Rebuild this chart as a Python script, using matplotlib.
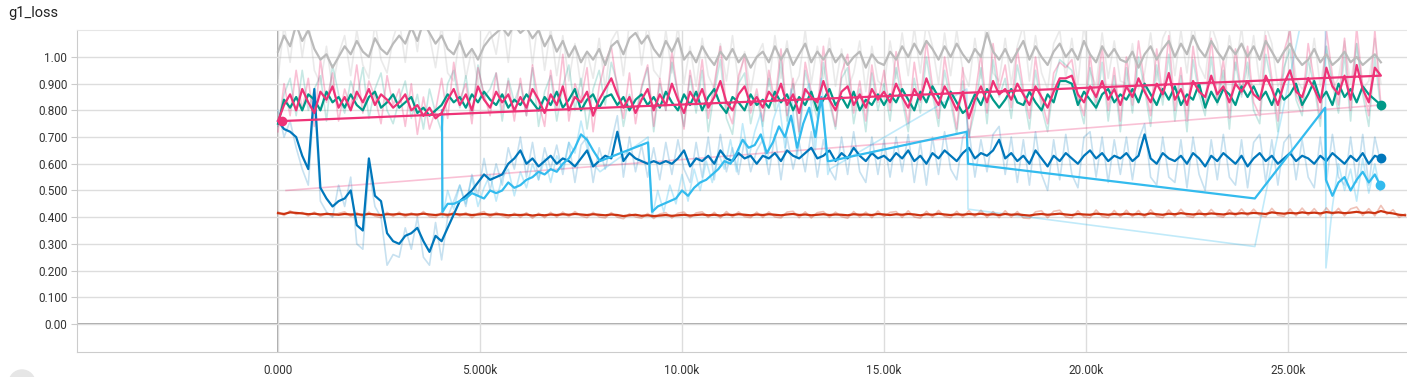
import numpy as np
import matplotlib.pyplot as plt
from matplotlib.patches import Ellipse

plt.rcParams['font.family'] = ['Roboto', 'DejaVu Sans']

# runs are logged every 150 steps; values below are in hundredths (red: thousandths)
STEP = 150

grey_smooth = [
    102, 108, 104, 112, 106, 110, 103, 99, 101, 96, 100, 104, 101, 106, 102, 100, 107, 103, 101, 105,
    108, 105, 111, 106, 113, 109, 105, 108, 103, 101, 106, 100, 103, 99, 104, 107, 109, 111, 108, 112,
    109, 111, 107, 110, 104, 108, 102, 106, 100, 104, 98, 102, 99, 103, 97, 104, 106, 101, 107, 109,
    105, 108, 103, 100, 106, 102, 107, 99, 102, 98, 104, 100, 97, 102, 99, 103, 98, 101, 96, 100,
    102, 98, 104, 99, 103, 97, 101, 105, 98, 102, 99, 103, 98, 101, 97, 100, 102, 96, 101, 98,
    97, 102, 99, 104, 100, 105, 101, 106, 103, 99, 104, 100, 105, 101, 98, 103, 100, 109, 102, 99,
    103, 98, 102, 106, 99, 104, 100, 97, 102, 105, 100, 103, 99, 106, 101, 98, 104, 100, 103, 99,
    98, 102, 96, 101, 104, 99, 103, 106, 100, 105, 101, 108, 103, 100, 106, 102, 99, 104, 101, 105,
    100, 104, 99, 106, 102, 98, 102, 105, 100, 97, 99, 103, 98, 101, 97, 99, 102, 98, 100, 97,
    99, 101, 98]
grey_raw = [
    92, 112, 98, 118, 100, 115, 95, 90, 104, 88, 101, 108, 93, 110, 97, 92, 113, 99, 94, 107,
    114, 98, 117, 102, 120, 108, 96, 112, 94, 91, 109, 92, 103, 90, 106, 110, 101, 116, 98, 118,
    112, 117, 97, 115, 95, 111, 93, 108, 91, 105, 89, 102, 92, 107, 88, 106, 110, 93, 113, 116,
    97, 113, 95, 92, 110, 94, 112, 90, 104, 89, 107, 93, 88, 105, 91, 108, 90, 102, 87, 100,
    105, 89, 108, 92, 106, 88, 93, 110, 90, 104, 92, 107, 89, 103, 88, 94, 106, 87, 104, 91,
    89, 106, 92, 109, 93, 111, 94, 113, 104, 90, 109, 93, 110, 95, 89, 107, 92, 116, 94, 91,
    107, 90, 104, 112, 91, 108, 94, 88, 105, 110, 92, 107, 90, 112, 95, 89, 109, 92, 106, 91,
    90, 105, 88, 94, 109, 91, 107, 112, 93, 110, 94, 114, 97, 92, 112, 105, 90, 108, 95, 111,
    92, 108, 90, 112, 105, 89, 94, 110, 92, 88, 91, 107, 89, 104, 88, 92, 106, 90, 105, 88,
    91, 107, 90]

teal_smooth = [
    75, 84, 81, 85, 80, 86, 84, 80, 87, 83, 85, 81, 86, 82, 80, 85, 87, 81, 83, 86,
    81, 83, 85, 79, 81, 78, 80, 82, 86, 83, 85, 81, 86, 83, 87, 84, 82, 86, 81, 84,
    82, 86, 83, 80, 85, 82, 87, 81, 84, 88, 80, 84, 86, 81, 85, 86, 82, 85, 80, 84,
    86, 82, 85, 81, 87, 83, 80, 86, 82, 87, 80, 85, 88, 82, 79, 85, 83, 80, 86, 82,
    84, 81, 87, 83, 86, 80, 85, 82, 87, 80, 84, 88, 82, 85, 81, 87, 80, 84, 82, 86,
    82, 86, 83, 88, 84, 80, 87, 83, 89, 85, 81, 87, 83, 79, 81, 86, 82, 88, 84, 81,
    84, 88, 83, 82, 87, 83, 80, 86, 83, 91, 91, 90, 82, 87, 84, 81, 86, 88, 83, 86,
    84, 88, 83, 90, 86, 82, 88, 84, 89, 82, 86, 84, 90, 81, 87, 83, 88, 86, 82, 89,
    85, 89, 84, 87, 82, 88, 84, 86, 90, 82, 86, 91, 84, 87, 82, 90, 85, 88, 83, 89,
    86, 84, 82]
teal_raw = [
    74, 86, 92, 78, 95, 80, 88, 93, 76, 97, 86, 79, 91, 84, 96, 77, 88, 94, 80, 75,
    84, 91, 77, 86, 73, 88, 79, 72, 90, 95, 81, 93, 78, 97, 85, 88, 94, 76, 92, 83,
    90, 78, 96, 74, 87, 93, 76, 89, 97, 80, 92, 73, 88, 95, 82, 98, 90, 74, 86, 79,
    88, 96, 72, 90, 80, 98, 86, 74, 93, 79, 95, 72, 87, 99, 77, 71, 90, 94, 75, 86,
    74, 92, 80, 99, 76, 90, 71, 95, 85, 77, 98, 83, 73, 92, 96, 75, 88, 72, 94, 80,
    90, 76, 96, 84, 72, 92, 79, 100, 86, 74, 95, 83, 71, 91, 70, 80, 96, 75, 99, 85,
    92, 77, 97, 86, 73, 95, 81, 72, 90, 99, 97, 95, 84, 75, 96, 80, 98, 76, 93, 72,
    96, 79, 100, 88, 74, 97, 82, 101, 76, 93, 72, 99, 86, 78, 100, 82, 95, 73, 98, 85,
    98, 80, 75, 101, 90, 72, 96, 103, 84, 78, 99, 89, 74, 104, 90, 79, 101, 76, 105, 86,
    74, 100, 80]

pink_smooth = [
    76, 82, 86, 80, 88, 83, 79, 87, 84, 89, 81, 85, 80, 87, 83, 88, 82, 86, 84, 81,
    83, 86, 80, 82, 78, 81, 77, 79, 84, 88, 82, 86, 80, 89, 84, 81, 87, 83, 86, 80,
    85, 81, 88, 84, 79, 86, 82, 89, 80, 85, 83, 87, 78, 84, 88, 92, 86, 81, 85, 79,
    84, 88, 80, 86, 82, 90, 84, 79, 87, 83, 88, 81, 85, 91, 83, 80, 86, 89, 82, 85,
    81, 87, 84, 90, 82, 86, 79, 88, 85, 83, 91, 84, 80, 87, 89, 82, 86, 81, 88, 84,
    87, 83, 90, 85, 81, 88, 84, 92, 86, 82, 89, 85, 80, 87, 77, 84, 89, 83, 91, 86,
    88, 84, 90, 86, 82, 89, 85, 81, 87, 92, 92, 93, 86, 83, 89, 85, 91, 84, 88, 82,
    89, 85, 92, 87, 83, 90, 86, 94, 84, 88, 82, 91, 87, 85, 93, 86, 89, 83, 90, 87,
    91, 86, 84, 93, 88, 82, 90, 95, 87, 85, 92, 88, 83, 96, 89, 86, 93, 84, 97, 88,
    83, 96, 93]
pink_raw = [
    72, 90, 78, 95, 80, 92, 74, 99, 83, 94, 76, 88, 81, 97, 79, 91, 85, 75, 93, 82,
    88, 74, 90, 71, 85, 73, 80, 92, 77, 98, 84, 90, 75, 96, 86, 78, 94, 80, 91, 76,
    92, 78, 97, 83, 74, 95, 80, 101, 76, 90, 84, 96, 72, 89, 98, 104, 88, 77, 94, 75,
    89, 97, 74, 92, 80, 102, 86, 73, 95, 82, 99, 77, 90, 104, 81, 75, 93, 100, 79, 88,
    76, 95, 83, 103, 78, 92, 72, 98, 87, 80, 104, 85, 74, 94, 101, 79, 91, 76, 97, 83,
    95, 80, 102, 87, 75, 98, 83, 106, 89, 77, 100, 86, 73, 96, 70, 85, 101, 79, 105, 88,
    97, 81, 103, 88, 77, 100, 84, 75, 94, 98, 96, 99, 85, 78, 101, 83, 104, 80, 96, 76,
    100, 82, 106, 90, 78, 103, 85, 108, 80, 96, 76, 104, 88, 82, 107, 84, 99, 77, 103, 86,
    104, 83, 78, 108, 92, 76, 102, 110, 86, 81, 105, 91, 77, 110, 93, 82, 107, 80, 111, 89,
    78, 110, 82]
# the pink run was restarted: its last logged point jumps back to the start
pink_restart_step, pink_restart_smooth, pink_restart_raw = 100, 76, 50
pink_restart_raw_step = 200

blue_smooth = [
    76, 73, 72, 70, 63, 58, 88, 51, 47, 44, 46, 47, 50, 37, 35, 62, 48, 46, 34, 31,
    30, 33, 34, 36, 31, 27, 33, 31, 36, 41, 46, 48, 50, 53, 56, 54, 55, 56, 60, 62,
    65, 60, 62, 59, 61, 63, 60, 62, 61, 59, 62, 65, 59, 61, 63, 62, 72, 61, 64, 62,
    61, 60, 61, 60, 61, 60, 62, 65, 59, 62, 61, 63, 60, 65, 62, 61, 64, 62, 63, 60,
    63, 62, 64, 61, 65, 63, 62, 64, 66, 62, 63, 65, 61, 64, 62, 66, 63, 61, 64, 62,
    63, 61, 64, 62, 65, 61, 63, 60, 64, 62, 65, 63, 61, 64, 66, 62, 64, 63, 65, 69,
    62, 64, 61, 63, 60, 65, 62, 59, 63, 61, 64, 62, 60, 63, 65, 62, 64, 61, 63, 62,
    64, 61, 63, 71, 62, 60, 64, 62, 61, 63, 60, 64, 62, 59, 63, 61, 64, 62, 60, 63,
    59, 62, 64, 61, 63, 60, 62, 64, 61, 63, 62, 60, 63, 61, 64, 62, 60, 63, 61, 64,
    60, 63, 62]
blue_raw = [
    80, 70, 76, 66, 58, 52, 85, 46, 42, 40, 52, 44, 55, 30, 28, 58, 44, 40, 22, 26,
    25, 36, 28, 40, 25, 22, 38, 24, 40, 46, 52, 44, 56, 48, 62, 50, 60, 52, 66, 58,
    70, 55, 68, 54, 66, 58, 67, 56, 68, 53, 67, 70, 53, 66, 58, 68, 78, 55, 70, 57,
    67, 55, 66, 54, 68, 56, 69, 58, 53, 68, 55, 70, 54, 71, 57, 66, 56, 69, 57, 65,
    69, 56, 71, 54, 70, 58, 68, 57, 72, 55, 69, 58, 54, 70, 56, 72, 57, 53, 70, 56,
    69, 55, 70, 57, 71, 53, 68, 52, 70, 56, 72, 58, 54, 70, 73, 55, 69, 57, 71, 74,
    56, 70, 53, 69, 52, 72, 56, 50, 69, 54, 71, 56, 51, 70, 72, 55, 70, 53, 69, 56,
    70, 54, 69, 75, 55, 52, 70, 55, 53, 69, 51, 70, 56, 50, 69, 54, 71, 55, 52, 69,
    51, 68, 71, 53, 69, 52, 68, 71, 54, 69, 55, 51, 70, 53, 71, 55, 52, 70, 53, 71,
    52, 70, 60]

red_smooth = [
    415, 412, 418, 416, 414, 411, 413, 410, 412, 411, 409, 412, 410, 411, 409, 412, 410, 408, 411, 410,
    412, 409, 411, 410, 413, 410, 408, 411, 409, 412, 410, 411, 408, 410, 412, 409, 411, 410, 407, 409,
    408, 410, 406, 409, 407, 410, 408, 411, 409, 412, 410, 408, 411, 409, 407, 410, 408, 404, 407, 409,
    405, 407, 404, 406, 408, 405, 407, 409, 406, 408, 410, 407, 409, 406, 410, 408, 411, 409, 407, 410,
    408, 411, 409, 407, 410, 412, 408, 410, 407, 409, 411, 408, 410, 409, 407, 411, 409, 410, 408, 412,
    410, 408, 411, 409, 412, 410, 407, 411, 409, 413, 410, 408, 411, 409, 412, 410, 413, 409, 411, 408,
    412, 409, 411, 408, 406, 410, 412, 409, 411, 413, 410, 408, 412, 410, 409, 413, 411, 409, 412, 410,
    413, 410, 412, 409, 414, 411, 409, 413, 411, 415, 412, 410, 413, 411, 414, 412, 410, 414, 412, 415,
    413, 416, 414, 412, 418, 415, 413, 416, 414, 418, 415, 417, 414, 419, 416, 418, 415, 417, 420, 416,
    418, 415, 423, 417, 414, 409, 407]
red_raw = [
    420, 406, 424, 410, 418, 404, 419, 403, 416, 405, 414, 420, 403, 417, 402, 419, 404, 398, 418, 403,
    419, 401, 416, 404, 421, 402, 399, 418, 401, 420, 404, 417, 398, 414, 421, 400, 418, 405, 397, 415,
    399, 417, 396, 415, 398, 418, 400, 419, 402, 421, 405, 398, 418, 401, 397, 417, 400, 394, 413, 401,
    396, 414, 395, 412, 417, 397, 415, 419, 398, 416, 420, 399, 418, 397, 421, 400, 420, 402, 398, 419,
    399, 420, 401, 397, 419, 422, 398, 420, 397, 417, 421, 399, 419, 402, 396, 421, 400, 419, 398, 423,
    402, 418, 421, 399, 424, 401, 396, 422, 400, 425, 403, 398, 422, 400, 424, 402, 426, 399, 421, 398,
    424, 400, 421, 397, 395, 420, 424, 398, 422, 426, 401, 397, 424, 401, 398, 427, 403, 398, 425, 401,
    426, 402, 425, 399, 428, 403, 398, 427, 402, 430, 404, 399, 427, 402, 429, 405, 400, 428, 404, 431,
    405, 430, 406, 402, 433, 407, 403, 431, 405, 434, 407, 432, 404, 435, 408, 433, 405, 431, 438, 406,
    432, 405, 444, 410, 428, 399, 412]

# the light-blue run logs restarts, so its steps go back and forth
sky_steps = [
    4060, 4070, 4200, 4350, 4500, 4650, 4800, 4950, 5100, 5250, 5400, 5550, 5700, 5850, 6000,
    6150, 6300, 6450, 6600, 6750, 6900, 7050, 7200, 7350, 7500, 7650, 7800, 7970, 9160, 9260,
    9400, 9550, 9700, 9850, 10000, 10150, 10300, 10450, 10600, 10750, 10900, 11050, 11200, 11350,
    11500, 11650, 11800, 11950, 12100, 12250, 12400, 12550, 12700, 12850, 13000, 13150, 13300,
    13450, 13610, 13660, 17050, 17080, 24180, 25920, 25940, 26100, 26250, 26400, 26550, 26700,
    26850, 27000, 27150, 27280]
sky_smooth = [
    80, 42, 45, 45, 46, 47, 49, 48, 47, 50, 49, 50, 53, 51, 52,
    54, 55, 57, 56, 58, 57, 60, 62, 66, 71, 69, 65, 61, 68, 42,
    44, 45, 46, 47, 50, 48, 51, 53, 54, 56, 58, 61, 60, 64,
    69, 66, 67, 71, 64, 68, 74, 70, 78, 66, 75, 81, 70,
    85, 61, 61, 72, 60, 47, 81, 54, 48, 53, 55, 50, 54,
    57, 53, 56, 52]
sky_raw = [
    80, 40, 50, 43, 52, 45, 55, 44, 51, 56, 46, 55, 58, 48, 57,
    51, 60, 54, 62, 53, 63, 58, 68, 64, 76, 66, 60, 57, 70, 40,
    50, 42, 52, 45, 56, 46, 58, 50, 61, 53, 64, 58, 69, 57,
    75, 62, 72, 79, 60, 76, 83, 66, 88, 62, 84, 90, 65,
    92, 56, 58, 88, 43, 29, 157, 21, 44, 60, 50, 58, 46,
    62, 49, 60, 50]

x_ticks = [0, 5000, 10000, 15000, 20000, 25000]
x_labels = ['0.000', '5.000k', '10.00k', '15.00k', '20.00k', '25.00k']
y_ticks = [0.0, 0.1, 0.2, 0.3, 0.4, 0.5, 0.6, 0.7, 0.8, 0.9, 1.0]
y_labels = ['0.00', '0.100', '0.200', '0.300', '0.400', '0.500', '0.600',
            '0.700', '0.800', '0.900', '1.00']

C_BLUE, C_RED, C_SKY = '#0077bb', '#cc3311', '#33bbee'
C_PINK, C_TEAL, C_GREY = '#ee3377', '#009988', '#bbbbbb'


def steps_for(vals):
    return np.arange(len(vals)) * STEP


def h(vals):
    return np.array(vals, dtype=float) / 100.0


fig = plt.figure(figsize=(14.07, 3.77), dpi=100)
ax = fig.add_axes([77 / 1407, 25 / 377, 1330 / 1407, 322 / 377])

pink_x = np.append(steps_for(pink_smooth), pink_restart_step)
pink_y = np.append(h(pink_smooth), pink_restart_smooth / 100)
pink_rx = np.append(steps_for(pink_raw), pink_restart_raw_step)
pink_ry = np.append(h(pink_raw), pink_restart_raw / 100)

# raw values, faded
raw_a = 0.3
ax.plot(steps_for(grey_raw), h(grey_raw), color=C_GREY, lw=1.2, alpha=raw_a, zorder=2)
ax.plot(steps_for(teal_raw), h(teal_raw), color=C_TEAL, lw=1.2, alpha=0.22, zorder=2)
ax.plot(pink_rx, pink_ry, color=C_PINK, lw=1.2, alpha=raw_a, zorder=2)
ax.plot(steps_for(red_raw), np.array(red_raw) / 1000, color=C_RED, lw=1.2, alpha=raw_a, zorder=2)
ax.plot(steps_for(blue_raw), h(blue_raw), color=C_BLUE, lw=1.2, alpha=0.22, zorder=2)
ax.plot(sky_steps, h(sky_raw), color=C_SKY, lw=1.2, alpha=raw_a, zorder=2)

# smoothed values
ax.plot(steps_for(grey_smooth), h(grey_smooth), color=C_GREY, lw=1.6, zorder=3)
ax.plot(steps_for(red_smooth), np.array(red_smooth) / 1000, color=C_RED, lw=1.6, zorder=3)
ax.plot(steps_for(teal_smooth), h(teal_smooth), color=C_TEAL, lw=1.6, zorder=3)
ax.plot(steps_for(blue_smooth), h(blue_smooth), color=C_BLUE, lw=1.6, zorder=3)
ax.plot(sky_steps, h(sky_smooth), color=C_SKY, lw=1.6, zorder=3)
ax.plot(pink_x, pink_y, color=C_PINK, lw=1.6, zorder=3)

# dots at each run's last point
for xs, ys, c in [(steps_for(teal_smooth), h(teal_smooth), C_TEAL),
                  (steps_for(blue_smooth), h(blue_smooth), C_BLUE),
                  (sky_steps, h(sky_smooth), C_SKY),
                  (pink_x, pink_y, C_PINK)]:
    ax.plot(xs[-1], ys[-1], 'o', color=c, ms=6, zorder=4)

ax.set_xlim(-4975, 27946)
ax.set_ylim(-0.105, 1.101)
ax.set_xticks(x_ticks)
ax.set_xticklabels(x_labels)
ax.set_yticks(y_ticks)
ax.set_yticklabels(y_labels)
ax.grid(True, color='#dddddd', lw=1, zorder=0)
ax.axhline(0, color='#9e9e9e', lw=1.3, zorder=1)
ax.axvline(0, color='#9e9e9e', lw=1.3, zorder=1)

ax.spines['right'].set_visible(False)
ax.spines['top'].set_color('#e6e6e6')
ax.spines['left'].set_color('#cccccc')
ax.spines['bottom'].set_color('#cccccc')
ax.tick_params(axis='y', length=4, color='#cccccc', pad=3, labelsize=8.5, labelcolor='#333333')
ax.tick_params(axis='x', length=0, pad=9, labelsize=8.5, labelcolor='#333333')

fig.text(8 / 1407, 1 - 13 / 377, 'g1_loss', fontsize=10.5, color='#212121', va='center')
fig.patches.append(Ellipse((22 / 1407, -6 / 377), 26 / 1407, 26 / 377,
                           transform=fig.transFigure, color='#e6e6e6'))

fig.savefig('out.png', dpi=100)
